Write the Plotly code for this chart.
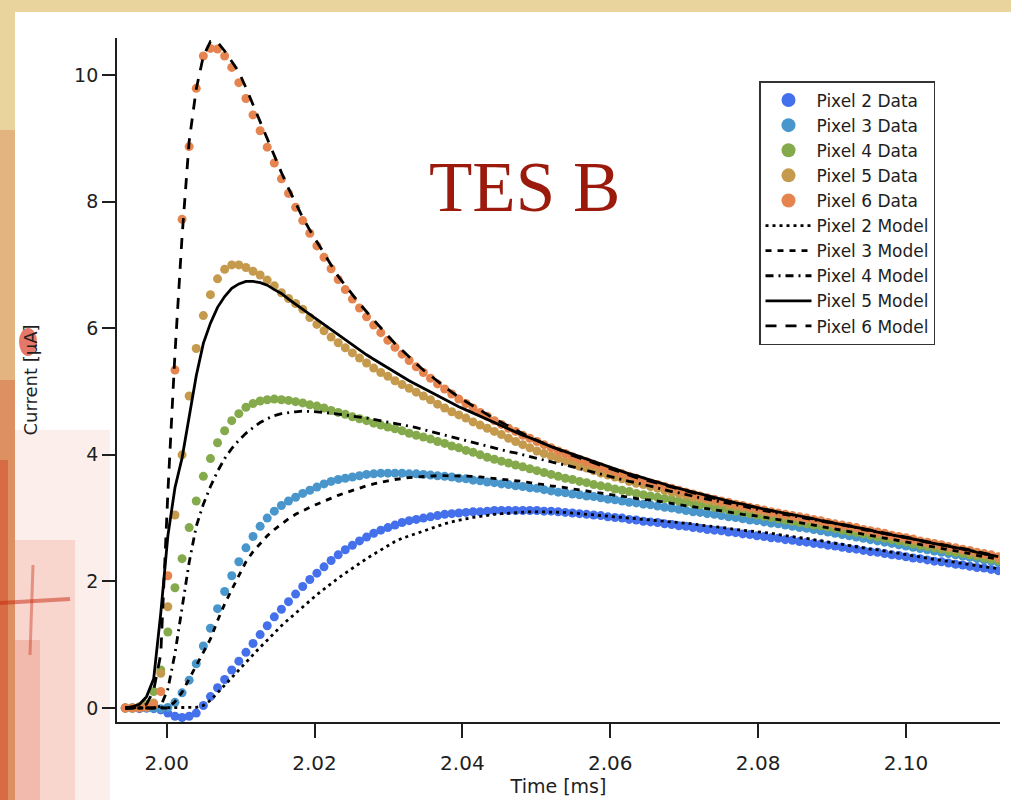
import numpy as np
import plotly.graph_objects as go

# ---------------- data ----------------
T0 = 1.9944      # first sample time [ms]
DT = 0.00096     # sampling step [ms]
N = 124
time_ms = np.round(T0 + DT * np.arange(N), 5)

p2_data = [0.00, 0.00, -0.01, 0.00, -0.01, -0.03, -0.08, -0.13, -0.15, -0.13, -0.08, 0.04, 0.18, 0.32,
           0.45, 0.60, 0.74, 0.88, 1.02, 1.16, 1.30, 1.44, 1.56, 1.68, 1.80, 1.92, 2.03, 2.13, 2.23, 2.33, 2.42,
           2.50, 2.57, 2.64, 2.70, 2.76, 2.81, 2.85, 2.89, 2.93, 2.96, 2.98, 3.00, 3.02, 3.04, 3.06, 3.07, 3.08, 3.09, 3.10, 3.10,
           3.11, 3.12, 3.12, 3.12, 3.12, 3.12, 3.12, 3.12, 3.11, 3.11, 3.10, 3.09, 3.08, 3.07, 3.06, 3.05, 3.04, 3.02, 3.01, 3.00,
           2.98, 2.97, 2.95, 2.94, 2.93, 2.91, 2.90, 2.88, 2.87, 2.85, 2.84, 2.82, 2.81, 2.80, 2.78, 2.77, 2.75, 2.74, 2.72, 2.71,
           2.69, 2.68, 2.66, 2.65, 2.63, 2.62, 2.60, 2.59,
           2.57, 2.56, 2.54, 2.52, 2.51, 2.49, 2.47, 2.46, 2.44, 2.42, 2.41, 2.39, 2.37, 2.36, 2.34, 2.32, 2.31, 2.29, 2.27, 2.26, 2.24, 2.22, 2.21, 2.19, 2.17]

p3_data = [0.00, 0.00, 0.01, 0.00, 0.00, -0.01, 0.01,
           0.09, 0.24, 0.44, 0.70, 0.98, 1.26, 1.57, 1.84, 2.09, 2.31, 2.53, 2.71, 2.87, 3.00, 3.11, 3.20, 3.27, 3.33, 3.39, 3.44, 3.49, 3.54, 3.58, 3.61,
           3.63, 3.65, 3.67, 3.69, 3.70, 3.71, 3.71, 3.71, 3.71, 3.70, 3.70, 3.69, 3.68, 3.67, 3.66, 3.65, 3.63, 3.62, 3.60, 3.59,
           3.57, 3.56, 3.54, 3.53, 3.51, 3.50, 3.48, 3.47, 3.45, 3.43, 3.41, 3.40, 3.38, 3.37, 3.35, 3.34, 3.32, 3.30, 3.29, 3.27,
           3.25, 3.24, 3.22, 3.21, 3.19, 3.17, 3.16, 3.14, 3.12, 3.10, 3.09, 3.07, 3.06, 3.04, 3.02, 3.01, 2.99, 2.97, 2.96, 2.94,
           2.92, 2.91, 2.89, 2.87, 2.85, 2.84, 2.82, 2.80,
           2.78, 2.76, 2.74, 2.72, 2.70, 2.68, 2.66, 2.64, 2.62, 2.60, 2.58, 2.56, 2.54, 2.52, 2.50, 2.48, 2.46, 2.44, 2.42, 2.40, 2.38, 2.36, 2.34, 2.32, 2.30]

p4_data = [0.00, 0.00, 0.01, 0.06,
           0.26, 0.60, 1.20, 1.90, 2.36, 2.85, 3.27, 3.66, 3.94, 4.19, 4.38, 4.54, 4.65, 4.75, 4.81, 4.85, 4.87, 4.88, 4.87, 4.86, 4.84, 4.82, 4.79, 4.77, 4.74, 4.70, 4.67,
           4.64, 4.60, 4.57, 4.54, 4.50, 4.47, 4.44, 4.41, 4.38, 4.34, 4.31, 4.28, 4.25, 4.21, 4.18, 4.14, 4.11, 4.07, 4.04, 4.00,
           3.96, 3.93, 3.90, 3.87, 3.84, 3.81, 3.78, 3.75, 3.72, 3.69, 3.66, 3.63, 3.61, 3.58, 3.56, 3.53, 3.51, 3.49, 3.46, 3.44,
           3.42, 3.39, 3.37, 3.35, 3.33, 3.31, 3.29, 3.27, 3.25, 3.23, 3.21, 3.19, 3.17, 3.15, 3.13, 3.11, 3.09, 3.07, 3.05, 3.03,
           3.01, 2.99, 2.97, 2.95, 2.93, 2.91, 2.89, 2.88,
           2.86, 2.84, 2.81, 2.79, 2.77, 2.75, 2.73, 2.70, 2.68, 2.66, 2.64, 2.62, 2.59, 2.57, 2.55, 2.53, 2.51, 2.48, 2.46, 2.44, 2.42, 2.40, 2.37, 2.35, 2.33]

p5_data = [0.00, 0.00, 0.02, 0.03,
           0.08, 0.55, 1.60, 3.05, 4.00, 4.93, 5.68, 6.20, 6.53, 6.78, 6.93, 7.00, 7.00, 6.96, 6.90, 6.84, 6.76, 6.67, 6.56, 6.47, 6.39, 6.30, 6.17, 6.06, 5.96, 5.86, 5.77,
           5.69, 5.61, 5.53, 5.45, 5.37, 5.30, 5.24, 5.17, 5.11, 5.05, 4.99, 4.93, 4.87, 4.80, 4.74, 4.68, 4.63, 4.58, 4.52, 4.47,
           4.42, 4.37, 4.32, 4.26, 4.21, 4.16, 4.11, 4.06, 4.02, 3.98, 3.94, 3.90, 3.86, 3.82, 3.79, 3.75, 3.71, 3.68, 3.65, 3.62,
           3.58, 3.55, 3.53, 3.50, 3.47, 3.44, 3.41, 3.39, 3.36, 3.33, 3.31, 3.28, 3.26, 3.24, 3.21, 3.19, 3.17, 3.15, 3.12, 3.10,
           3.08, 3.06, 3.04, 3.02, 3.00, 2.98, 2.96, 2.94,
           2.92, 2.89, 2.87, 2.85, 2.83, 2.80, 2.78, 2.76, 2.74, 2.71, 2.69, 2.67, 2.65, 2.62, 2.60, 2.58, 2.55, 2.53, 2.51, 2.49, 2.46, 2.44, 2.42, 2.40, 2.37]

p6_data = [0.00, 0.00, 0.00, 0.01,
           0.05, 0.26, 2.09, 5.34, 7.72, 8.87, 9.79, 10.30, 10.42, 10.41, 10.30, 10.12, 9.88, 9.63, 9.37, 9.12, 8.86, 8.61, 8.36, 8.13, 7.91, 7.70, 7.50, 7.30, 7.12, 6.94, 6.77,
           6.61, 6.46, 6.32, 6.18, 6.05, 5.93, 5.81, 5.70, 5.59, 5.49, 5.39, 5.30, 5.21, 5.12, 5.04, 4.96, 4.88, 4.81, 4.74, 4.67,
           4.61, 4.54, 4.48, 4.42, 4.37, 4.31, 4.26, 4.21, 4.16, 4.11, 4.06, 4.02, 3.97, 3.93, 3.89, 3.85, 3.81, 3.77, 3.73, 3.70,
           3.66, 3.63, 3.59, 3.56, 3.53, 3.50, 3.47, 3.44, 3.41, 3.38, 3.35, 3.32, 3.30, 3.27, 3.25, 3.22, 3.20, 3.17, 3.15, 3.13,
           3.10, 3.08, 3.06, 3.04, 3.02, 3.00, 2.98, 2.96,
           2.93, 2.91, 2.89, 2.87, 2.85, 2.82, 2.80, 2.78, 2.76, 2.73, 2.71, 2.69, 2.67, 2.64, 2.62, 2.60, 2.58, 2.55, 2.53, 2.51, 2.49, 2.46, 2.44, 2.42, 2.39]

p2_model = [0, 0, 0, 0, 0, 0, 0, 0, 0, 0.00, 0.01,
            0.04, 0.12, 0.24, 0.36, 0.49, 0.61, 0.73, 0.85, 0.96, 1.07, 1.19, 1.30, 1.40, 1.50, 1.60, 1.70, 1.79, 1.88, 1.97, 2.05,
            2.13, 2.21, 2.29, 2.36, 2.43, 2.50, 2.57, 2.63, 2.68, 2.72, 2.76, 2.80, 2.84, 2.88, 2.91, 2.94, 2.97, 2.99, 3.01, 3.03,
            3.05, 3.06, 3.07, 3.08, 3.09, 3.10, 3.10, 3.10, 3.10, 3.10, 3.09, 3.09, 3.08, 3.07, 3.06, 3.05, 3.05, 3.04, 3.03, 3.02,
            3.00, 2.99, 2.98, 2.97, 2.96, 2.95, 2.94, 2.93, 2.92, 2.91, 2.89, 2.88, 2.86, 2.85, 2.84, 2.82, 2.81, 2.80, 2.79, 2.77,
            2.76, 2.74, 2.72, 2.71, 2.69, 2.68, 2.66, 2.65,
            2.63, 2.61, 2.59, 2.57, 2.55, 2.53, 2.51, 2.50, 2.48, 2.46, 2.44, 2.43, 2.41, 2.39, 2.37, 2.35, 2.33, 2.32, 2.30, 2.28, 2.27, 2.25, 2.23, 2.22, 2.20]

p3_model = [0, 0, 0, 0, 0, 0, 0.00,
            0.10, 0.25, 0.46, 0.67, 0.88, 1.09, 1.38, 1.64, 1.87, 2.09, 2.31, 2.47, 2.60, 2.72, 2.82, 2.91, 2.99, 3.06, 3.12, 3.17, 3.22, 3.27, 3.32, 3.36,
            3.40, 3.44, 3.48, 3.51, 3.54, 3.57, 3.59, 3.61, 3.63, 3.64, 3.65, 3.66, 3.67, 3.67, 3.67, 3.67, 3.67, 3.66, 3.66, 3.65,
            3.64, 3.63, 3.62, 3.61, 3.59, 3.58, 3.56, 3.55, 3.53, 3.51, 3.50, 3.48, 3.46, 3.45, 3.43, 3.41, 3.40, 3.38, 3.36, 3.35,
            3.33, 3.31, 3.30, 3.28, 3.27, 3.25, 3.23, 3.22, 3.20, 3.18, 3.16, 3.15, 3.13, 3.11, 3.10, 3.08, 3.06, 3.05, 3.03, 3.01,
            3.00, 2.98, 2.96, 2.94, 2.93, 2.91, 2.89, 2.87,
            2.85, 2.83, 2.81, 2.79, 2.77, 2.75, 2.73, 2.71, 2.69, 2.67, 2.65, 2.63, 2.61, 2.59, 2.56, 2.54, 2.52, 2.50, 2.48, 2.46, 2.44, 2.41, 2.39, 2.37, 2.35]

p4_model = [0, 0, 0, 0, 0.00,
            0.03, 0.30, 0.86, 1.58, 2.30, 2.87, 3.22, 3.50, 3.74, 3.94, 4.10, 4.23, 4.34, 4.43, 4.51, 4.57, 4.62, 4.65, 4.67, 4.68, 4.69, 4.69, 4.68, 4.67, 4.66, 4.65,
            4.63, 4.61, 4.60, 4.58, 4.56, 4.54, 4.52, 4.50, 4.48, 4.45, 4.43, 4.40, 4.37, 4.34, 4.31, 4.28, 4.25, 4.22, 4.19, 4.17,
            4.14, 4.11, 4.08, 4.05, 4.03, 4.00, 3.97, 3.94, 3.92, 3.89, 3.86, 3.84, 3.81, 3.78, 3.75, 3.73, 3.70, 3.67, 3.64, 3.61,
            3.58, 3.56, 3.53, 3.50, 3.48, 3.45, 3.42, 3.40, 3.37, 3.35, 3.32, 3.30, 3.28, 3.25, 3.23, 3.21, 3.19, 3.16, 3.14, 3.12,
            3.10, 3.08, 3.06, 3.04, 3.02, 3.00, 2.98, 2.96,
            2.93, 2.91, 2.89, 2.87, 2.85, 2.82, 2.80, 2.78, 2.76, 2.73, 2.71, 2.69, 2.67, 2.64, 2.62, 2.60, 2.58, 2.55, 2.53, 2.51, 2.49, 2.46, 2.44, 2.42, 2.39]

p5_model = [0.00, 0.02, 0.06, 0.18, 0.46, 1.50, 2.72, 3.48, 3.95, 4.58, 5.25, 5.76, 6.08, 6.33, 6.50, 6.63, 6.70, 6.74, 6.74, 6.72, 6.68, 6.61, 6.55, 6.46, 6.38, 6.29, 6.21, 6.13, 6.05, 5.97, 5.89,
            5.81, 5.73, 5.65, 5.58, 5.51, 5.44, 5.37, 5.30, 5.24, 5.17, 5.11, 5.05, 4.99, 4.93, 4.87, 4.82, 4.76, 4.71, 4.66, 4.60,
            4.55, 4.50, 4.46, 4.41, 4.36, 4.31, 4.27, 4.22, 4.18, 4.13, 4.09, 4.05, 4.01, 3.97, 3.93, 3.89, 3.85, 3.81, 3.77, 3.74,
            3.70, 3.67, 3.63, 3.60, 3.57, 3.53, 3.50, 3.47, 3.44, 3.41, 3.38, 3.35, 3.32, 3.30, 3.27, 3.24, 3.22, 3.19, 3.17, 3.14,
            3.12, 3.10, 3.07, 3.05, 3.03, 3.01, 2.99, 2.96,
            2.94, 2.92, 2.90, 2.87, 2.85, 2.83, 2.81, 2.78, 2.76, 2.74, 2.72, 2.69, 2.67, 2.65, 2.62, 2.60, 2.58, 2.56, 2.53, 2.51, 2.49, 2.46, 2.44, 2.42, 2.39]

p6_model = [0.00, 0.00, 0.02, 0.06, 0.28, 0.85, 3.40, 5.60, 7.45, 8.95, 9.78, 10.30, 10.53, 10.52, 10.38, 10.22, 10.05, 9.80, 9.53, 9.28, 8.98, 8.71, 8.46, 8.21, 7.98, 7.75, 7.55, 7.36, 7.18, 7.00, 6.82,
            6.67, 6.53, 6.39, 6.26, 6.13, 6.00, 5.88, 5.76, 5.65, 5.54, 5.44, 5.34, 5.25, 5.16, 5.07, 4.99, 4.91, 4.84, 4.77, 4.70,
            4.63, 4.57, 4.51, 4.45, 4.39, 4.34, 4.28, 4.23, 4.18, 4.13, 4.08, 4.04, 3.99, 3.95, 3.91, 3.87, 3.83, 3.79, 3.75, 3.71,
            3.68, 3.64, 3.61, 3.58, 3.54, 3.51, 3.48, 3.45, 3.42, 3.39, 3.37, 3.34, 3.31, 3.29, 3.26, 3.24, 3.21, 3.19, 3.16, 3.14,
            3.12, 3.09, 3.07, 3.05, 3.03, 3.01, 2.99, 2.96,
            2.94, 2.92, 2.90, 2.88, 2.85, 2.83, 2.81, 2.79, 2.77, 2.74, 2.72, 2.70, 2.68, 2.65, 2.63, 2.61, 2.59, 2.56, 2.54, 2.52, 2.50, 2.47, 2.45, 2.43, 2.40]

data_names = ["Pixel 2 Data", "Pixel 3 Data", "Pixel 4 Data", "Pixel 5 Data", "Pixel 6 Data"]
model_names = ["Pixel 2 Model", "Pixel 3 Model", "Pixel 4 Model", "Pixel 5 Model", "Pixel 6 Model"]
x_ticks = [2.00, 2.02, 2.04, 2.06, 2.08, 2.10]
x_tick_labels = ["2.00", "2.02", "2.04", "2.06", "2.08", "2.10"]
y_ticks = [0, 2, 4, 6, 8, 10]

# ---------------- style ----------------
data_colors = ["#4470EC", "#4896CB", "#84AA4C", "#C59A4D", "#E5844E"]
model_dashes = ["3px,4px", "6px,6px", "8px,5px,2px,5px", "solid", "11px,9px"]
FONT = "DejaVu Sans"
INK = "#1e1e1e"

data_series = [p2_data, p3_data, p4_data, p5_data, p6_data]
model_series = [p2_model, p3_model, p4_model, p5_model, p6_model]

fig = go.Figure()
for name, ys, col in zip(data_names, data_series, data_colors):
    fig.add_trace(go.Scatter(x=time_ms, y=ys, mode="markers", name=name, showlegend=False,
                             marker=dict(color=col, size=9, line=dict(width=0))))
for k, (name, ys, d) in enumerate(zip(model_names, model_series, model_dashes)):
    fig.add_trace(go.Scatter(x=time_ms, y=ys, mode="lines", name=name, legendrank=10 + k,
                             line=dict(color="black", width=2.8, dash=d)))
# legend-only entries for the data (bigger symbols, as in the original)
for k, (name, col) in enumerate(zip(data_names, data_colors)):
    fig.add_trace(go.Scatter(x=[None], y=[None], mode="markers", name=name, legendrank=1 + k,
                             marker=dict(color=col, size=14)))

# plot area in pixels
L, R, T, B = 117, 1000, 38, 722
W, H = 1011, 800
def px(xp):
    return (xp - L) / (R - L)
def py(yp):
    return (B - yp) / (B - T)

def rect(x0, x1, y0, y1, color, op, layer="below"):
    return dict(type="rect", xref="paper", yref="paper", x0=px(x0), x1=px(x1), y0=py(y1), y1=py(y0),
                fillcolor=color, opacity=op, line=dict(width=0), layer=layer)

shapes = [
    rect(15, 1011, 12, 800, "white", 1.0),
    # faded red ink stains on the left edge
    rect(0, 15, 130, 800, "#d8663e", 0.30),
    rect(0, 15, 380, 800, "#d0401e", 0.30),
    rect(0, 8, 460, 800, "#c8280e", 0.35),
    rect(15, 110, 430, 800, "#f6c6b8", 0.30),
    rect(15, 75, 540, 800, "#eea08c", 0.30),
    rect(15, 40, 640, 800, "#e27a62", 0.30),
    dict(type="line", xref="paper", yref="paper", x0=px(0), x1=px(70), y0=py(603), y1=py(599),
         line=dict(color="#c8280e", width=4), opacity=0.5, layer="below"),
    dict(type="line", xref="paper", yref="paper", x0=px(33), x1=px(30), y0=py(565), y1=py(655),
         line=dict(color="#c8280e", width=3), opacity=0.4, layer="below"),
    dict(type="circle", xref="paper", yref="paper", x0=px(19), x1=px(37), y0=py(356), y1=py(328),
         fillcolor="#d8301a", opacity=0.65, line=dict(width=0), layer="above"),
]

fig.update_layout(
    width=W, height=H,
    margin=dict(l=L, r=W - R, t=T, b=H - B, autoexpand=False),
    paper_bgcolor="#E8D49C",
    plot_bgcolor="white",
    font=dict(family=FONT, color=INK),
    shapes=shapes,
    xaxis=dict(range=[1.99328, 2.11272], tickvals=x_ticks, ticktext=x_tick_labels, automargin=False,
               ticks="outside", ticklen=14, tickwidth=1.6, tickcolor=INK,
               showline=True, linewidth=1.8, linecolor=INK, mirror=False, ticklabelstandoff=8,
               showgrid=False, zeroline=False, tickfont=dict(size=20, family=FONT, color=INK),
               title=dict(text="Time [ms]", font=dict(size=19, family=FONT, color=INK), standoff=4)),
    yaxis=dict(range=[-0.221, 10.585], tickvals=y_ticks, automargin=False,
               ticks="outside", ticklen=13, tickwidth=1.6, tickcolor=INK,
               showline=True, linewidth=1.8, linecolor=INK, mirror=False,
               showgrid=False, zeroline=False, tickfont=dict(size=19, family=FONT, color=INK),
               title=dict(text="Current [µA]", font=dict(size=18, family=FONT, color=INK), standoff=32)),
    legend=dict(x=px(759), y=py(81), xanchor="left", yanchor="top",
                bgcolor="white", bordercolor="#333333", borderwidth=1.5,
                font=dict(family=FONT, size=17, color=INK), itemwidth=46,
                tracegroupgap=0, traceorder="normal"),
    annotations=[dict(text="TES B", xref="paper", yref="paper", x=px(524), y=py(187),
                      xanchor="center", yanchor="middle", showarrow=False,
                      font=dict(family="Liberation Serif", size=71, color="#9B1A0C"))],
)

fig.write_html("out.html")
